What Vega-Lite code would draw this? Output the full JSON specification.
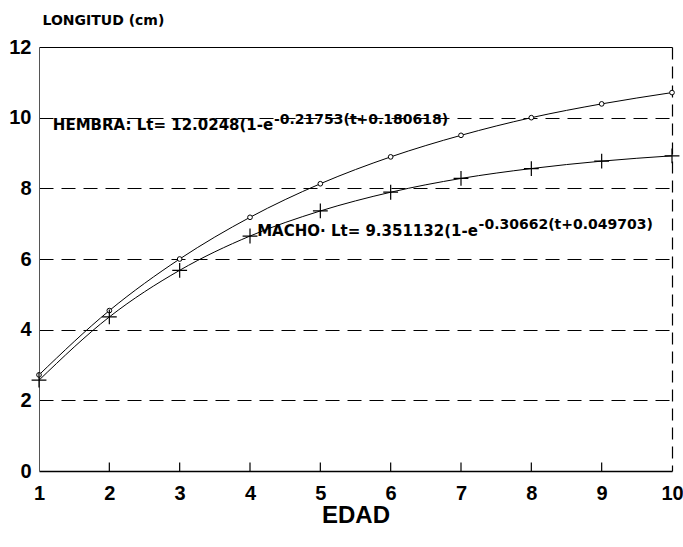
{
  "$schema": "https://vega.github.io/schema/vega-lite/v6.json",
  "width": 633,
  "height": 424,
  "autosize": {"type": "none"},
  "padding": {"left": 39, "top": 47, "right": 11, "bottom": 76},
  "background": "white",
  "config": {"view": {"stroke": null}, "font": "Liberation Sans"},
  "datasets": {
    "crecimiento": [
      {"sexo": "HEMBRA", "edad": 1, "longitud": 2.72},
      {"sexo": "HEMBRA", "edad": 2, "longitud": 4.54},
      {"sexo": "HEMBRA", "edad": 3, "longitud": 6.0},
      {"sexo": "HEMBRA", "edad": 4, "longitud": 7.18},
      {"sexo": "HEMBRA", "edad": 5, "longitud": 8.13},
      {"sexo": "HEMBRA", "edad": 6, "longitud": 8.89},
      {"sexo": "HEMBRA", "edad": 7, "longitud": 9.5},
      {"sexo": "HEMBRA", "edad": 8, "longitud": 10.0},
      {"sexo": "HEMBRA", "edad": 9, "longitud": 10.39},
      {"sexo": "HEMBRA", "edad": 10, "longitud": 10.71},
      {"sexo": "MACHO", "edad": 1, "longitud": 2.57},
      {"sexo": "MACHO", "edad": 2, "longitud": 4.36},
      {"sexo": "MACHO", "edad": 3, "longitud": 5.68},
      {"sexo": "MACHO", "edad": 4, "longitud": 6.65},
      {"sexo": "MACHO", "edad": 5, "longitud": 7.36},
      {"sexo": "MACHO", "edad": 6, "longitud": 7.89},
      {"sexo": "MACHO", "edad": 7, "longitud": 8.28},
      {"sexo": "MACHO", "edad": 8, "longitud": 8.56},
      {"sexo": "MACHO", "edad": 9, "longitud": 8.77},
      {"sexo": "MACHO", "edad": 10, "longitud": 8.92}
    ],
    "marcas": [
      {"edad": 2}, {"edad": 3}, {"edad": 4}, {"edad": 5},
      {"edad": 6}, {"edad": 7}, {"edad": 8}, {"edad": 9}
    ],
    "ecuaciones": [
      {"sexo": "HEMBRA", "parte": "base", "edad": 4.33, "longitud": 9.65, "texto": "HEMBRA: Lt= 12.0248(1-e"},
      {"sexo": "HEMBRA", "parte": "exponente", "edad": 4.34, "longitud": 9.83, "texto": "-0.21753(t+0.180618)"},
      {"sexo": "MACHO", "parte": "base", "edad": 7.24, "longitud": 6.66, "texto": "MACHO· Lt= 9.351132(1-e"},
      {"sexo": "MACHO", "parte": "exponente", "edad": 7.25, "longitud": 6.86, "texto": "-0.30662(t+0.049703)"}
    ]
  },
  "layer": [
    {
      "data": {"name": "crecimiento"},
      "mark": {"type": "line", "interpolate": "monotone", "color": "black", "strokeWidth": 1},
      "encoding": {
        "x": {
          "field": "edad",
          "type": "quantitative",
          "scale": {"domain": [1, 10], "nice": false, "zero": false},
          "axis": {
            "title": "EDAD",
            "titleFont": "Liberation Sans",
            "titleFontSize": 24,
            "titleFontWeight": "bold",
            "titleColor": "black",
            "titlePadding": 0,
            "values": [1, 2, 3, 4, 5, 6, 7, 8, 9, 10],
            "format": "d",
            "labelFont": "Liberation Sans",
            "labelFontSize": 20,
            "labelFontWeight": "bold",
            "labelColor": "black",
            "labelPadding": 12,
            "labelFlush": false,
            "labelOverlap": false,
            "ticks": false,
            "domainColor": "black",
            "domainWidth": 1.5,
            "grid": true,
            "gridColor": "black",
            "gridWidth": 1.2,
            "gridDash": [12, 7],
            "gridOpacity": {"condition": {"test": "datum.value === 10", "value": 1}, "value": 0}
          }
        },
        "y": {
          "field": "longitud",
          "type": "quantitative",
          "scale": {"domain": [0, 12], "nice": false},
          "axis": {
            "title": "LONGITUD (cm)",
            "titleAngle": 0,
            "titleAlign": "left",
            "titleBaseline": "alphabetic",
            "titleX": 3,
            "titleY": -23,
            "titleFont": "DejaVu Sans",
            "titleFontSize": 14,
            "titleFontWeight": "bold",
            "titleColor": "black",
            "values": [0, 2, 4, 6, 8, 10, 12],
            "labelFont": "Liberation Sans",
            "labelFontSize": 20,
            "labelFontWeight": "bold",
            "labelColor": "black",
            "labelPadding": 8,
            "labelFlush": false,
            "ticks": false,
            "domainColor": "#555555",
            "domainWidth": 1,
            "grid": true,
            "gridColor": "black",
            "gridWidth": 1.2,
            "gridDash": {"condition": {"test": "datum.value === 12", "value": []}, "value": [14, 8]},
            "gridOpacity": {"condition": {"test": "datum.value === 0", "value": 0}, "value": 1}
          }
        },
        "detail": {"field": "sexo"}
      }
    },
    {
      "data": {"name": "marcas"},
      "mark": {"type": "rule", "color": "black", "strokeWidth": 1.2},
      "encoding": {
        "x": {"field": "edad", "type": "quantitative"},
        "y": {"datum": 0},
        "y2": {"datum": 0.24}
      }
    },
    {
      "data": {"name": "crecimiento"},
      "transform": [{"filter": "datum.sexo === 'HEMBRA'"}],
      "mark": {"type": "point", "shape": "circle", "size": 22, "filled": true, "fill": "white", "stroke": "black", "strokeWidth": 1, "opacity": 1},
      "encoding": {
        "x": {"field": "edad", "type": "quantitative"},
        "y": {"field": "longitud", "type": "quantitative"}
      }
    },
    {
      "data": {"name": "crecimiento"},
      "transform": [{"filter": "datum.sexo === 'MACHO'"}],
      "mark": {"type": "point", "shape": "M-1,0H1M0,-1V1", "size": 220, "filled": false, "stroke": "black", "strokeWidth": 1.2, "opacity": 1},
      "encoding": {
        "x": {"field": "edad", "type": "quantitative"},
        "y": {"field": "longitud", "type": "quantitative"}
      }
    },
    {
      "data": {"name": "ecuaciones"},
      "transform": [{"filter": "datum.parte === 'base'"}],
      "mark": {"type": "text", "align": "right", "baseline": "alphabetic", "font": "DejaVu Sans", "fontWeight": "bold", "fontSize": 15, "color": "black"},
      "encoding": {
        "x": {"field": "edad", "type": "quantitative"},
        "y": {"field": "longitud", "type": "quantitative"},
        "text": {"field": "texto"}
      }
    },
    {
      "data": {"name": "ecuaciones"},
      "transform": [{"filter": "datum.parte === 'exponente'"}],
      "mark": {"type": "text", "align": "left", "baseline": "alphabetic", "font": "DejaVu Sans", "fontWeight": "bold", "fontSize": 14, "color": "black"},
      "encoding": {
        "x": {"field": "edad", "type": "quantitative"},
        "y": {"field": "longitud", "type": "quantitative"},
        "text": {"field": "texto"}
      }
    }
  ]
}
